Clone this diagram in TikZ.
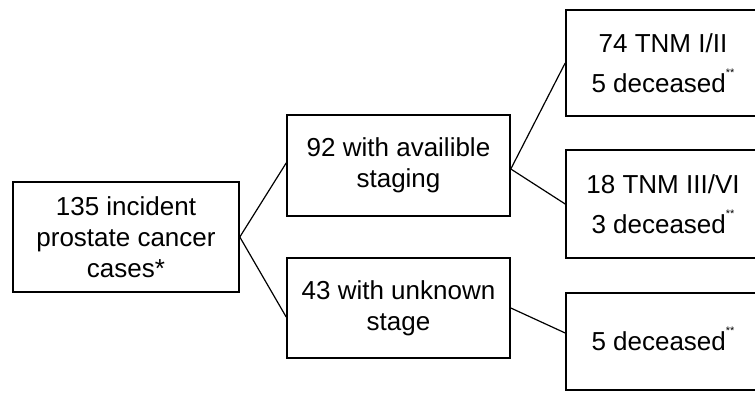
\documentclass[tikz,border=0pt]{standalone}
\usepackage{fontspec}
\setmainfont{Liberation Sans}
\usepackage{tikz}
\usetikzlibrary{positioning}

\newcommand{\dstar}{\raisebox{1.15ex}{\fontsize{11}{11}\selectfont **}}

\begin{document}
\begin{tikzpicture}[x=1pt,y=1pt,
  box/.style={draw,line width=1.6pt,align=center,inner sep=0pt,
    font=\fontsize{26}{31}\selectfont},
  line/.style={line width=1.2pt}]
\useasboundingbox (0,0) rectangle (755,393);
\node[box,minimum width=226pt,minimum height=110pt] (a) at (126,156) {135 incident\\prostate cancer\\cases*};
\node[box,minimum width=223pt,minimum height=101pt] (b) at (398.5,227.5) {92 with availible\\staging};
\node[box,minimum width=223pt,minimum height=100pt] (c) at (398.5,85) {43 with unknown\\stage};
\node[box,minimum width=194pt,minimum height=106pt,font=\fontsize{26}{40}\selectfont] (d) at (663,330) {74 TNM I/II\\5 deceased\dstar};
\node[box,minimum width=194pt,minimum height=108pt,font=\fontsize{26}{40}\selectfont] (e) at (663,189) {18 TNM III/VI\\3 deceased\dstar};
\node[box,minimum width=194pt,minimum height=97pt] (f) at (663,51.5) {\raisebox{6pt}{5 deceased\dstar}};
\draw[line] (a.east) -- ([yshift=2.5pt]b.west);
\draw[line] (a.east) -- ([yshift=-9pt]c.west);
\draw[line] ([yshift=-3.5pt]b.east) -- (d.west);
\draw[line] ([yshift=-3.5pt]b.east) -- (e.west);
\draw[line] (c.east) -- ([yshift=8.5pt]f.west);
\end{tikzpicture}
\end{document}
